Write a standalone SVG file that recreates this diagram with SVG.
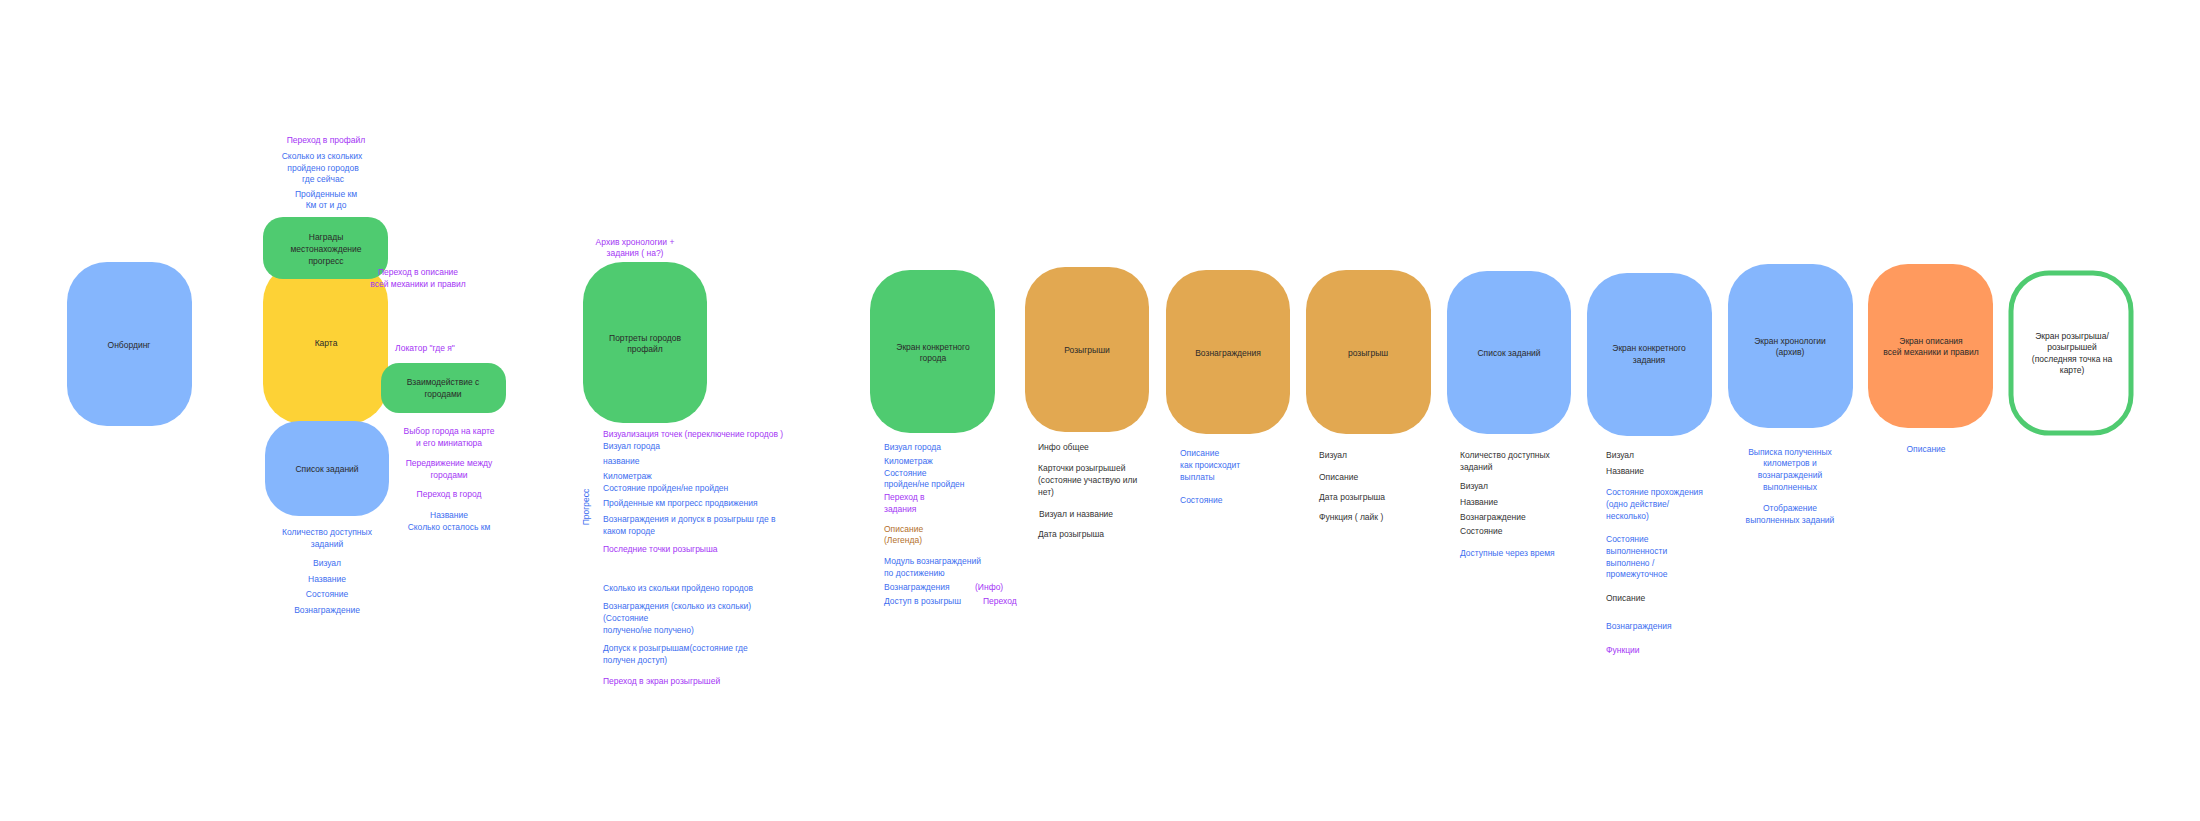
<svg xmlns="http://www.w3.org/2000/svg" width="2200" height="821" viewBox="0 0 2200 821">
<style>
text{font-family:"Liberation Sans",Arial,sans-serif;font-size:8.5px}
.lbl{fill:#2a2a2a;text-anchor:middle}
.b{fill:#3d6ef0}
.p{fill:#a436f5}
.k{fill:#333}
.br{fill:#b3702c}
.c{text-anchor:middle}
.blue{fill:#85b6fd}
.green{fill:#4fcb70}
.yellow{fill:#fdd236}
.orange{fill:#e2a851}
.orange2{fill:#ff9a5e}
</style>
<rect width="2200" height="821" fill="#fff"/>
<g id="connectors"/>

<g id="onboarding">
<rect class="blue" x="67" y="262" width="125" height="164" rx="40"/>
<text class="lbl" x="129" y="348">Онбординг</text>
</g>

<g id="map">
<rect class="yellow" x="263" y="262" width="125" height="162" rx="40"/>
<text class="lbl" x="326" y="346">Карта</text>
</g>

<g id="awards-top">
<rect class="green" x="263" y="217" width="125" height="62" rx="20"/>
<text class="lbl" x="326" y="240">Награды</text>
<text class="lbl" x="326" y="252">местонахождение</text>
<text class="lbl" x="326" y="264">прогресс</text>
</g>
<g id="map-top-texts">
<text class="p c" x="326" y="143">Переход в профайл</text>
<text class="b c" x="322" y="159">Сколько из скольких</text>
<text class="b c" x="323" y="171">пройдено городов</text>
<text class="b c" x="323" y="182">где сейчас</text>
<text class="b c" x="326" y="197">Пройденные км</text>
<text class="b c" x="326" y="208">Км от и до</text>
<text class="p c" x="418" y="275">Переход в  описание</text>
<text class="p c" x="418" y="287">всей механики и правил</text>
<text class="p c" x="425" y="351">Локатор "где я"</text>
</g>

<g id="interaction">
<rect class="green" x="381" y="363" width="125" height="50" rx="18"/>
<text class="lbl" x="443" y="385">Взаимодействие с</text>
<text class="lbl" x="443" y="397">городами</text>
</g>
<g id="interaction-texts">
<text class="p c" x="449" y="434">Выбор города на карте</text>
<text class="p c" x="449" y="446">и его миниатюра</text>
<text class="p c" x="449" y="466">Передвижение между</text>
<text class="p c" x="449" y="478">городами</text>
<text class="p c" x="449" y="497">Переход в город</text>
<text class="b c" x="449" y="518">Название</text>
<text class="b c" x="449" y="530">Сколько осталось км</text>
</g>

<g id="tasks-list">
<rect class="blue" x="265" y="421" width="124" height="95" rx="34"/>
<text class="lbl" x="327" y="472">Список заданий</text>
<text class="b c" x="327" y="535">Количество доступных</text>
<text class="b c" x="327" y="547">заданий</text>
<text class="b c" x="327" y="566">Визуал</text>
<text class="b c" x="327" y="582">Название</text>
<text class="b c" x="327" y="597">Состояние</text>
<text class="b c" x="327" y="613">Вознаграждение</text>
</g>

<g id="profile">
<rect class="green" x="583" y="262" width="124" height="161" rx="40"/>
<text class="lbl" x="645" y="341">Портреты городов</text>
<text class="lbl" x="645" y="352">профайл</text>
<text class="p c" x="635" y="245">Архив хронологии +</text>
<text class="p c" x="635" y="256">задания ( на?)</text>
<text class="p" x="603" y="437">Визуализация точек (переключение городов )</text>
<text class="b" x="603" y="449">Визуал города</text>
<text class="b" x="603" y="464">название</text>
<text class="b" x="603" y="479">Километраж</text>
<text class="b" x="603" y="491">Состояние пройден/не пройден</text>
<text class="b" x="603" y="506">Пройденные км прогресс продвижения</text>
<text class="b" x="603" y="522">Вознаграждения и допуск в розыгрыш где в</text>
<text class="b" x="603" y="534">каком городе</text>
<text class="p" x="603" y="552">Последние точки розыгрыша</text>
<text class="b" x="603" y="591">Сколько из скольки пройдено городов</text>
<text class="b" x="603" y="609">Вознаграждения (сколько из скольки)</text>
<text class="b" x="603" y="621">(Состояние</text>
<text class="b" x="603" y="633">получено/не получено)</text>
<text class="b" x="603" y="651">Допуск к розыгрышам(состояние где</text>
<text class="b" x="603" y="663">получен доступ)</text>
<text class="p" x="603" y="684">Переход в экран розыгрышей</text>
<text class="b c" transform="translate(589 507) rotate(-90)">Прогресс</text>
</g>

<g id="city">
<rect class="green" x="870" y="270" width="125" height="163" rx="40"/>
<text class="lbl" x="933" y="350">Экран конкретного</text>
<text class="lbl" x="933" y="361">города</text>
<text class="b" x="884" y="450">Визуал города</text>
<text class="b" x="884" y="464">Километраж</text>
<text class="b" x="884" y="476">Состояние</text>
<text class="b" x="884" y="487">пройден/не пройден</text>
<text class="p" x="884" y="500">Переход в</text>
<text class="p" x="884" y="512">задания</text>
<text class="br" x="884" y="532">Описание</text>
<text class="br" x="884" y="543">(Легенда)</text>
<text class="b" x="884" y="564">Модуль вознаграждений</text>
<text class="b" x="884" y="576">по достижению</text>
<text class="b" x="884" y="590">Вознаграждения</text>
<text class="p" x="975" y="590">(Инфо)</text>
<text class="b" x="884" y="604">Доступ в розыгрыш</text>
<text class="p" x="983" y="604">Переход</text>
</g>

<g id="raffles">
<rect class="orange" x="1025" y="267" width="124" height="165" rx="40"/>
<text class="lbl" x="1087" y="353">Розыгрыши</text>
<text class="k" x="1038" y="450">Инфо общее</text>
<text class="k" x="1038" y="471">Карточки розыгрышей</text>
<text class="k" x="1038" y="483">(состояние участвую или</text>
<text class="k" x="1038" y="495">нет)</text>
<text class="k" x="1039" y="517">Визуал и название</text>
<text class="k" x="1038" y="537">Дата розыгрыша</text>
</g>

<g id="rewards">
<rect class="orange" x="1166" y="270" width="124" height="164" rx="40"/>
<text class="lbl" x="1228" y="356">Вознаграждения</text>
<text class="b" x="1180" y="456">Описание</text>
<text class="b" x="1180" y="468">как происходит</text>
<text class="b" x="1180" y="480">выплаты</text>
<text class="b" x="1180" y="503">Состояние</text>
</g>

<g id="raffle">
<rect class="orange" x="1306" y="270" width="125" height="164" rx="40"/>
<text class="lbl" x="1368" y="356">розыгрыш</text>
<text class="k" x="1319" y="458">Визуал</text>
<text class="k" x="1319" y="480">Описание</text>
<text class="k" x="1319" y="500">Дата розыгрыша</text>
<text class="k" x="1319" y="520">Функция ( лайк )</text>
</g>

<g id="tasks">
<rect class="blue" x="1447" y="271" width="124" height="163" rx="40"/>
<text class="lbl" x="1509" y="356">Список заданий</text>
<text class="k" x="1460" y="458">Количество доступных</text>
<text class="k" x="1460" y="470">заданий</text>
<text class="k" x="1460" y="489">Визуал</text>
<text class="k" x="1460" y="505">Название</text>
<text class="k" x="1460" y="520">Вознаграждение</text>
<text class="k" x="1460" y="534">Состояние</text>
<text class="b" x="1460" y="556">Доступные через время</text>
</g>

<g id="task">
<rect class="blue" x="1587" y="273" width="125" height="163" rx="40"/>
<text class="lbl" x="1649" y="351">Экран конкретного</text>
<text class="lbl" x="1649" y="363">задания</text>
<text class="k" x="1606" y="458">Визуал</text>
<text class="k" x="1606" y="474">Название</text>
<text class="b" x="1606" y="495">Состояние прохождения</text>
<text class="b" x="1606" y="507">(одно действие/</text>
<text class="b" x="1606" y="519">несколько)</text>
<text class="b" x="1606" y="542">Состояние</text>
<text class="b" x="1606" y="554">выполненности</text>
<text class="b" x="1606" y="566">выполнено /</text>
<text class="b" x="1606" y="577">промежуточное</text>
<text class="k" x="1606" y="601">Описание</text>
<text class="b" x="1606" y="629">Вознаграждения</text>
<text class="p" x="1606" y="653">Функции</text>
</g>

<g id="chronology">
<rect class="blue" x="1728" y="264" width="125" height="164" rx="40"/>
<text class="lbl" x="1790" y="344">Экран хронологии</text>
<text class="lbl" x="1790" y="355">(архив)</text>
<text class="b c" x="1790" y="455">Выписка полученных</text>
<text class="b c" x="1790" y="466">километров и</text>
<text class="b c" x="1790" y="478">вознаграждений</text>
<text class="b c" x="1790" y="490">выполненных</text>
<text class="b c" x="1790" y="511">Отображение</text>
<text class="b c" x="1790" y="523">выполненных заданий</text>
</g>

<g id="rules">
<rect class="orange2" x="1868" y="264" width="125" height="164" rx="40"/>
<text class="lbl" x="1931" y="344">Экран описания</text>
<text class="lbl" x="1931" y="355">всей механики и правил</text>
<text class="b c" x="1926" y="452">Описание</text>
</g>

<g id="raffle-screen">
<rect x="2011" y="273" width="120" height="160" rx="38" fill="#fff" stroke="#4fcb70" stroke-width="5"/>
<text class="lbl" x="2072" y="339">Экран розыгрыша/</text>
<text class="lbl" x="2072" y="350">розыгрышей</text>
<text class="lbl" x="2072" y="362">(последняя точка на</text>
<text class="lbl" x="2072" y="373">карте)</text>
</g>
</svg>
